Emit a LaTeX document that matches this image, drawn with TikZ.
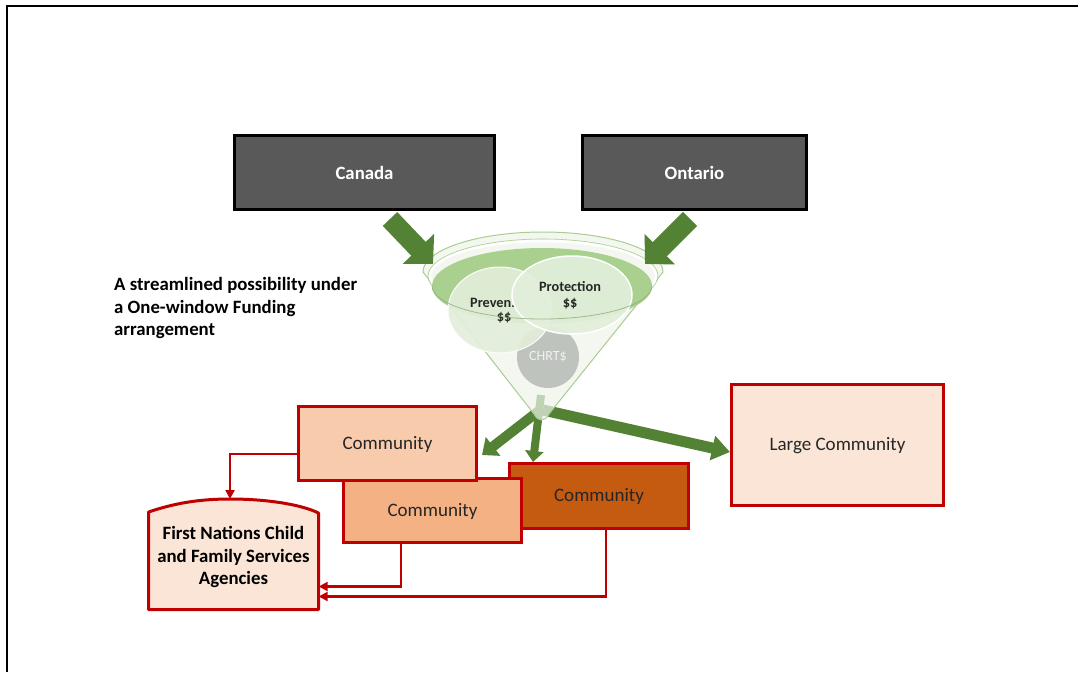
\documentclass[tikz,border=0pt]{standalone}
\usepackage{fontspec}
\setmainfont{Carlito}
\usetikzlibrary{arrows.meta,shapes.geometric}
\definecolor{boxgray}{HTML}{595959}
\definecolor{agreen}{HTML}{548235}
\definecolor{cred}{HTML}{C00000}
\definecolor{peachA}{HTML}{F8CBAD}
\definecolor{peachB}{HTML}{F4B183}
\definecolor{orangeC}{HTML}{C55A11}
\definecolor{peachL}{HTML}{FBE5D6}
\definecolor{fpale}{HTML}{EEF5EA}
\definecolor{fline}{HTML}{A9CD91}
\definecolor{fdark}{HTML}{A9D08E}
\definecolor{fcirc}{HTML}{E2EFDA}
\definecolor{cgray}{HTML}{BFC3BE}
\definecolor{txtdark}{HTML}{262626}
\begin{document}
\begin{tikzpicture}[x=1pt,y=-1pt,
  govbox/.style={draw=black, line width=2.5pt, fill=boxgray, text=white,
    font=\fontsize{18.8}{22}\selectfont\bfseries, inner sep=0pt},
  commbox/.style={draw=cred, line width=3pt, text=txtdark,
    font=\fontsize{19}{23}\selectfont, inner sep=0pt, text height=13pt, text depth=2pt},
  garrow/.style={draw=agreen, line width=#1},
  redarrow/.style={draw=cred, line width=2.2pt, -{Triangle[length=9pt,width=9pt]}},
  boldtxt/.style={font=\fontsize{18.8}{22.7}\selectfont\bfseries, text=black, inner sep=0pt},
  smallbold/.style={font=\fontsize{14.3}{16}\selectfont\bfseries, text=txtdark, inner sep=0pt},
]
\useasboundingbox (0,0) rectangle (1078,672);
\fill[white] (0,0) rectangle (1078,672);
% page border (top and left)
\draw[line width=2pt] (6.5,672) -- (6.5,6) -- (1078,6);

% government boxes
\node[govbox, minimum width=260pt, minimum height=74pt] (canada) at (364.5,172.5) {Canada};
\node[govbox, minimum width=224pt, minimum height=74pt] (ontario) at (694.5,172.5) {Ontario};

% note
\node[boldtxt, anchor=north west, align=left] (note) at (114,277)
  {A streamlined possibility under\\a One-window Funding\\arrangement};

% output arrows (start under the funnel)
\coordinate (spoutL) at (540,410);
\coordinate (spoutD) at (541,395);
\coordinate (spoutR) at (543,410);
\coordinate (tipL) at (482,455);
\coordinate (tipD) at (533,462);
\coordinate (tipR) at (730,452);
\draw[garrow=10pt, -{Triangle[length=14pt,width=23pt]}] (spoutL) -- (tipL);
\draw[garrow=8pt, -{Triangle[length=11pt,width=18pt]}] (spoutD) -- (tipD);
\draw[garrow=11pt, -{Triangle[length=18pt,width=24pt]}] (spoutR) -- (tipR);

% funnel
\path[fill=fpale, fill opacity=0.7, draw=fline, line width=1pt]
  (423,272) -- (534,414) .. controls (538,422) and (545,422) .. (549,414)
  -- (663,272) arc[start angle=0, end angle=-180, x radius=120, y radius=40] -- cycle;
\draw[white, line width=2.5pt] (543,276) ellipse [x radius=113, y radius=35];
\draw[fline, line width=0.6pt] (543,276) ellipse [x radius=115, y radius=37];
\fill[fdark] (542,286) ellipse [x radius=110, y radius=38];
\node[circle, fill=cgray, minimum size=62pt, inner sep=0pt, text=white!90!gray,
  font=\fontsize{14}{16}\selectfont] (chrt) at (548,357) {CHRT\$};
\node[ellipse, draw=white!90!fcirc, line width=1pt, fill=fcirc, fill opacity=0.9,
  minimum width=104pt, minimum height=86pt, inner sep=0pt] (prevent) at (500,310) {};
\node[smallbold, anchor=west] (preventxt) at (470,303) {Preven.};
\node[smallbold] (prevdollar) at (504,318) {\$\$};
\node[ellipse, draw=white, line width=1.5pt, fill=fcirc, fill opacity=0.93,
  minimum width=120pt, minimum height=78pt, inner sep=0pt] (protect) at (572,295) {};
\node[smallbold, align=center] (protecttxt) at (570,295) {Protection\\\$\$};
\draw[fline!80!black, line width=0.8pt, opacity=0.7] (652,286)
  arc[start angle=0, end angle=180, x radius=110, y radius=33];

% input arrows
\coordinate (fromCa) at (390,219);
\coordinate (toCa) at (433,264);
\coordinate (fromOn) at (690,219);
\coordinate (toOn) at (645,264);
\draw[garrow=20pt, -{Triangle[length=21pt,width=42pt]}] (fromCa) -- (toCa);
\draw[garrow=20pt, -{Triangle[length=21pt,width=42pt]}] (fromOn) -- (toOn);

% communities
\node[commbox, fill=orangeC, minimum width=179pt, minimum height=65pt] (c3) at (599,496) {Community};
\node[commbox, fill=peachB, minimum width=178pt, minimum height=64pt] (c2) at (432.5,510.5) {Community};
\node[commbox, fill=peachA, minimum width=178pt, minimum height=74pt] (c1) at (387.5,443.5) {Community};
\node[commbox, fill=peachL, minimum width=212pt, minimum height=121pt] (large) at (837.5,445) {Large Community};

% First Nations agencies shape
\draw[cred, line width=3pt, fill=peachL, line join=round]
  (148.5,512) -- (148.5,609.5) -- (318.5,609.5) -- (318.5,513)
  .. controls (300,504) and (265,499) .. (230,499)
  .. controls (200,499) and (175,503) .. (148.5,512) -- cycle;
\node[minimum width=170pt, minimum height=97.5pt, inner sep=0pt] (fn) at (233.5,561) {};
\coordinate (fntop) at (230,499);
\node[boldtxt, align=center] (fntxt) at (233.5,557)
  {First Nations Child\\and Family Services\\Agencies};

% red connectors
\draw[redarrow] ([yshift=-10.5pt]c1.west) -| (fntop);
\draw[redarrow] ([xshift=-31.5pt]c2.south) |- ([yshift=-25.5pt]fn.east);
\draw[redarrow] ([xshift=7pt]c3.south) |- ([yshift=-35.5pt]fn.east);
\end{tikzpicture}
\end{document}
